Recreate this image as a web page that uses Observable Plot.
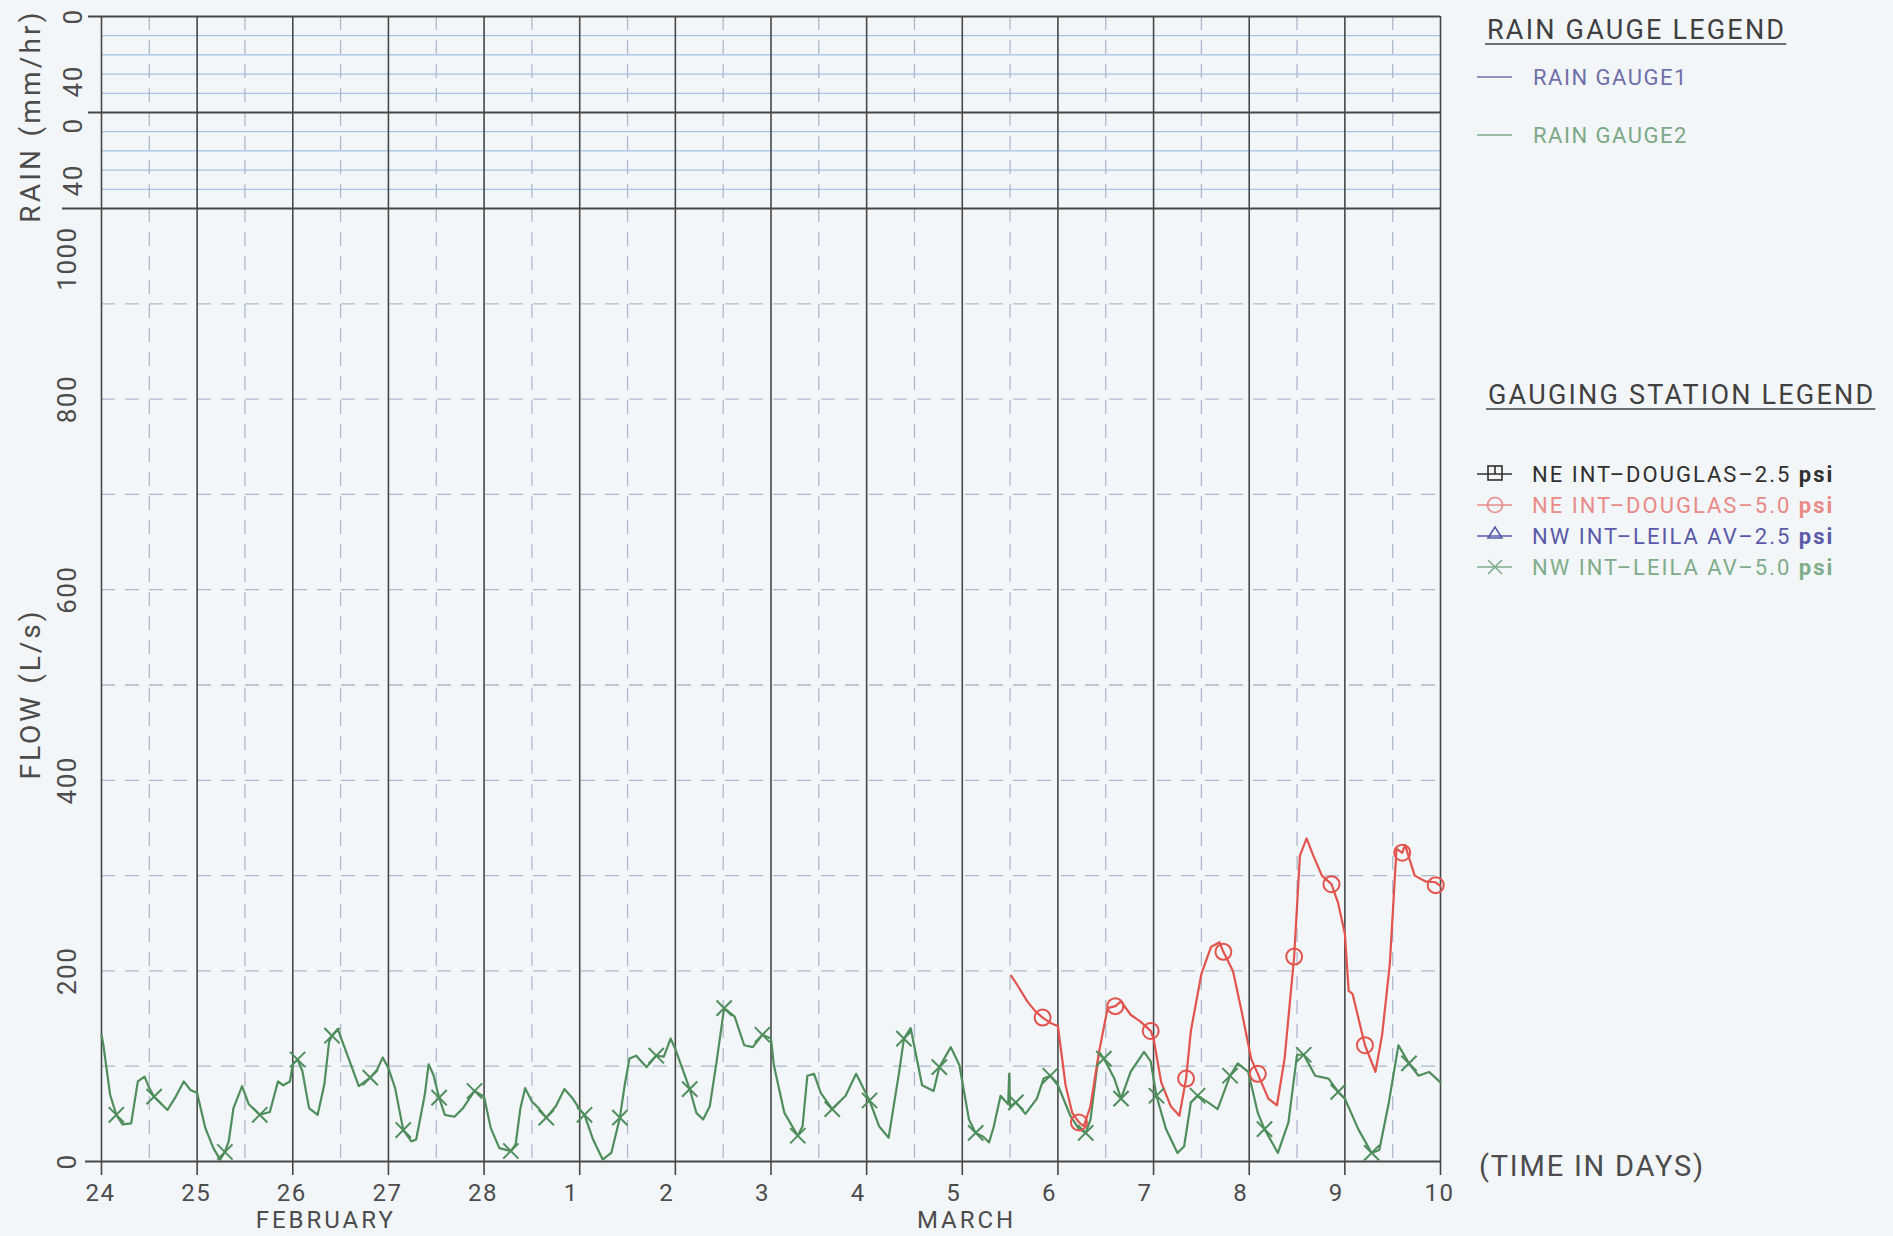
<!DOCTYPE html>
<html><head><meta charset="utf-8">
<script src="https://cdn.jsdelivr.net/npm/d3@7"></script>
<script src="https://cdn.jsdelivr.net/npm/@observablehq/plot@0.6"></script>
<style>
html,body{margin:0;padding:0;background:#f3f6f8;}
#wrap{position:relative;width:1893px;height:1236px;overflow:hidden;font-family:Roboto,"DejaVu Sans",sans-serif;}
#wrap > svg{position:absolute;left:0;top:0;}
</style></head><body><div id="wrap"></div>
<script>
// ---- axis / tick data ----
const days = [0,1,2,3,4,5,6,7,8,9,10,11,12,13,14];
const dayLabels = ["24","25","26","27","28","1","2","3","4","5","6","7","8","9","10"];
const halfDays = [0.5,1.5,2.5,3.5,4.5,5.5,6.5,7.5,8.5,9.5,10.5,11.5,12.5,13.5];
const months = ["FEBRUARY","MARCH"];
const monthPos = [2.35, 9.05];
const flowTicks = [0,200,400,600,800];
const flowTop = [1000];
const flowGrid = [100,200,300,400,500,600,700,800,900];
const rainGrid = [10,20,30,40];
const rainTicks = [0,40];

// ---- series (t = days since 24 Feb 00:00, v = flow L/s) ----
const greenT = [0.00,0.02,0.09,0.155,0.22,0.31,0.38,0.45,0.50,0.55,0.69,0.77,0.86,0.93,1.00,
1.086,1.17,1.24,1.29,1.33,1.38,1.47,1.54,1.655,1.76,1.845,1.90,1.97,2.00,2.05,2.10,2.17,2.26,2.33,2.38,2.41,2.47,2.57,2.69,2.81,2.88,2.94,3.00,
3.07,3.155,3.24,3.29,3.38,3.42,3.47,3.53,3.59,3.69,3.78,3.90,4.00,4.07,4.16,4.28,4.33,4.38,4.43,4.50,4.57,4.65,4.75,4.84,4.92,5.00,
5.05,5.14,5.24,5.33,5.42,5.47,5.52,5.59,5.70,5.80,5.88,5.95,6.00,6.10,6.15,6.22,6.29,6.36,6.43,6.51,6.62,6.72,6.81,6.91,7.00,
7.03,7.14,7.28,7.33,7.38,7.45,7.52,7.64,7.78,7.89,8.03,8.13,8.23,8.34,8.39,8.46,8.58,8.70,8.76,8.88,8.97,9.07,9.14,9.22,9.28,9.33,9.40,9.48,9.49,9.50,
9.56,9.66,9.78,9.85,9.92,10.00,10.13,10.22,10.29,10.34,10.43,10.48,10.59,10.66,10.76,10.90,10.97,11.03,11.13,11.25,11.32,11.39,11.46,11.57,11.67,11.80,11.88,11.99,
12.09,12.16,12.30,12.41,12.50,12.57,12.69,12.83,12.93,13.00,13.14,13.28,13.36,13.46,13.56,13.67,13.77,13.88,14.00];
const greenV = [133,122,70,49,39,40,84,89,77,68,54,67,84,75,72,
35,14,2,10,21,56,79,60,49,52,84,80,84,102,107,95,56,49,81,126,132,139,112,79,88,96,109,98,
77,33,21,23,70,102,91,67,49,47,56,74,68,35,14,11,18,56,77,63,56,46,58,76,67,55,
49,23,2,9,46,80,108,111,99,111,110,129,118,90,76,51,44,58,104,161,152,122,120,133,129,
101,51,27,37,90,92,72,55,69,92,64,37,25,94,129,140,80,74,99,120,101,44,30,26,20,37,69,60,92,58,
62,50,66,87,90,80,48,34,30,44,115,108,87,66,94,115,105,69,34,9,16,62,69,62,55,90,103,94,
51,34,9,41,112,112,90,87,73,66,34,9,12,62,122,103,90,94,83];
const redT = [9.51,9.57,9.68,9.76,9.84,9.93,10.00,10.08,10.15,10.22,10.27,10.34,10.43,10.52,10.60,10.66,10.76,10.86,10.97,11.00,
11.08,11.18,11.27,11.34,11.39,11.50,11.60,11.69,11.73,11.83,11.92,12.02,12.09,12.20,12.29,12.37,12.47,12.53,12.60,12.67,12.76,12.86,12.93,13.00,
13.04,13.08,13.14,13.21,13.32,13.39,13.47,13.54,13.60,13.63,13.73,13.84,13.95,14.00];
const redV = [195,186,168,158,151,145,142,80,51,41,37,58,115,161,163,168,154,147,137,129,
83,58,48,87,137,197,225,230,220,200,158,108,92,66,59,108,215,321,339,321,300,291,271,239,
179,176,151,122,94,133,207,328,324,332,300,294,293,289];
const greenMarkT = [0.155,0.55,1.29,1.655,2.05,2.41,2.81,3.155,3.53,3.90,4.28,4.65,5.05,5.42,5.80,6.15,6.51,6.91,7.28,7.64,8.03,8.39,8.76,9.14,9.56,9.92,10.29,10.48,10.66,11.03,11.46,11.80,12.16,12.57,12.93,13.28,13.67];
const greenMarkV = [49,68,10,49,107,132,88,33,67,74,11,46,49,46,111,76,161,133,27,55,64,129,99,30,62,90,30,108,66,69,69,90,34,112,73,9,103];
const redMarkT = [9.84,10.22,10.60,10.97,11.34,11.73,12.09,12.47,12.86,13.21,13.60,13.95];
const redMarkV = [151,41,163,137,87,220,92,215,291,122,324,290];
const rain1 = []; // RAIN GAUGE1: no recorded rain
const rain2 = []; // RAIN GAUGE2: no recorded rain

const green = greenT.map((t,i)=>({t, v:greenV[i]}));
const red = redT.map((t,i)=>({t, v:redV[i]}));
const greenMarks = greenMarkT.map((t,i)=>({t, v:greenMarkV[i]}));
const redMarks = redMarkT.map((t,i)=>({t, v:redMarkV[i]}));

const W = 1893, H = 1236;
const GREEN = "#4f8d5c", RED = "#e2534d";
const DARK = "#474747", DASH = "#adb9cc", TXT = "#4c4c4c";
const FONT = "Roboto, 'DejaVu Sans', sans-serif";
const common = {width:W, height:H, marginLeft:101, marginRight:453,
  style:{background:"transparent", overflow:"visible", fontFamily:FONT, letterSpacing:"1.5px"},
  x:{domain:[0,14], axis:null}};

const flow = Plot.plot({...common, marginTop:208, marginBottom:75,
  y:{domain:[0,1000], axis:null},
  marks:[
    Plot.ruleY(flowGrid, {stroke:DASH, strokeDasharray:"14,10", strokeWidth:1.3}),
    Plot.ruleX(halfDays, {stroke:DASH, strokeDasharray:"14,10", strokeWidth:1.3}),
    Plot.ruleX(days, {stroke:DARK, strokeWidth:1.6, insetBottom:-14}),
    Plot.ruleY([0], {stroke:DARK, strokeWidth:1.8, insetLeft:-16}),
    Plot.ruleY(flowTop, {stroke:DARK, strokeWidth:1.8, insetLeft:-39}),
    Plot.line(green, {x:"t", y:"v", stroke:GREEN, strokeWidth:2.2}),
    Plot.line(red, {x:"t", y:"v", stroke:RED, strokeWidth:2.2}),
    Plot.dot(greenMarks, {x:"t", y:"v", symbol:"times", r:7, stroke:GREEN, strokeWidth:2}),
    Plot.dot(redMarks, {x:"t", y:"v", r:8, stroke:RED, fill:"none", strokeWidth:2}),
    Plot.text(days, {x:d=>d, text:(d,i)=>dayLabels[i], frameAnchor:"bottom", lineAnchor:"middle", dy:32, dx:-16, textAnchor:"start", fontSize:24, fill:TXT}),
    Plot.text(flowTicks, {y:d=>d, text:d=>String(d), frameAnchor:"left", textAnchor:"middle", dx:-34, rotate:-90, fontSize:26, fill:TXT}),
    Plot.text(flowTop, {y:d=>d, text:d=>String(d), frameAnchor:"left", textAnchor:"middle", dx:-34, dy:50, rotate:-90, fontSize:26, fill:TXT})
  ]});

function rainPanel(top, bottom, series, color, dy0, dy40) {
  return Plot.plot({...common, marginTop:top, marginBottom:H-bottom,
    y:{domain:[0,50], reverse:true, axis:null},
    marks:[
      Plot.ruleY(rainGrid, {stroke:"#a3c2e6", strokeWidth:1.3}),
      Plot.ruleX(halfDays, {stroke:DASH, strokeDasharray:"14,10", strokeWidth:1.3}),
      Plot.ruleX(days, {stroke:DARK, strokeWidth:1.6}),
      Plot.ruleY([0], {stroke:DARK, strokeWidth:1.8, insetLeft:-13}),
      Plot.line(series, {x:"t", y:"v", stroke:color, strokeWidth:2}),
      Plot.text([rainTicks[0]], {y:d=>d, text:d=>String(d), frameAnchor:"left", textAnchor:"middle", dx:-28, dy:dy0, rotate:-90, fontSize:26, fill:TXT}),
      Plot.text([rainTicks[1]], {y:d=>d, text:d=>String(d), frameAnchor:"left", textAnchor:"middle", dx:-28, dy:dy40, rotate:-90, fontSize:26, fill:TXT})
    ]});
}
const r1 = rainPanel(16, 112, rain1, "#6f6fa8", 0, -12);
const r2 = rainPanel(112, 208, rain2, "#7da887", 13, -9);

const wrap = document.getElementById("wrap");
wrap.appendChild(r1); wrap.appendChild(r2); wrap.appendChild(flow);

// ---- titles & legends ----
const xs = flow.scale("x");
const ov = d3.select(wrap).append("svg").attr("width", W).attr("height", H)
  .style("font-family", FONT).style("white-space", "pre");
function txt(x, y, s, size, fill, ls, rotate) {
  const t = ov.append("text").attr("x", x).attr("y", y).attr("dominant-baseline","central")
    .attr("font-size", size).attr("fill", fill).attr("letter-spacing", ls).text(s);
  if (rotate) t.attr("text-anchor","middle").attr("transform", `rotate(-90 ${x} ${y})`);
  return t;
}
months.forEach((m, i) => txt(xs.apply(monthPos[i]), 1220, m, 24, TXT, 3).attr("text-anchor", "middle"));
txt(30, 116, "RAIN  (mm/hr)", 28, TXT, 3.2, true);
txt(30, 694, "FLOW  (L/s)", 28, TXT, 3, true);
txt(1479, 1166, "(TIME  IN  DAYS)", 29, TXT, 1.8);

function title(x, y, s) {
  const t = txt(x, y, s, 27, "#404040", 2.2);
  const w = t.node().getComputedTextLength();
  ov.append("line").attr("x1", x-2).attr("x2", x+w).attr("y1", y+14).attr("y2", y+14)
    .attr("stroke", "#404040").attr("stroke-width", 1.6);
}
title(1487, 30, "RAIN  GAUGE  LEGEND");
const rainLeg = [["RAIN  GAUGE1", "#6f6fa8", 77], ["RAIN  GAUGE2", "#7da887", 135]];
rainLeg.forEach(([s, c, y]) => {
  ov.append("line").attr("x1",1477).attr("x2",1512).attr("y1",y).attr("y2",y).attr("stroke",c).attr("stroke-width",1.5);
  txt(1533, y, s, 22, c, 1.5);
});

title(1488, 395, "GAUGING  STATION  LEGEND");
const stations = [
  ["NE  INT–DOUGLAS–2.5  ", "#2f2f2f", 474, "square"],
  ["NE  INT–DOUGLAS–5.0  ", "#e88a86", 505, "circle"],
  ["NW  INT–LEILA  AV–2.5  ", "#5a5aa8", 536, "triangle"],
  ["NW  INT–LEILA  AV–5.0  ", "#7fac8a", 567, "times"]
];
stations.forEach(([s, c, y, sym]) => {
  const g = ov.append("g").attr("stroke", c).attr("stroke-width", 1.6).attr("fill", "none");
  g.append("line").attr("x1",1477).attr("x2",1512).attr("y1",y).attr("y2",y);
  const cx = 1495;
  if (sym === "square") {
    g.append("rect").attr("x",cx-7).attr("y",y-8).attr("width",14).attr("height",14);
    g.append("line").attr("x1",cx).attr("x2",cx).attr("y1",y-8).attr("y2",y);
  } else if (sym === "circle") {
    g.append("circle").attr("cx",cx).attr("cy",y).attr("r",7.5);
  } else if (sym === "triangle") {
    g.append("path").attr("d",`M${cx-7},${y+2}L${cx},${y-9}L${cx+7},${y+2}Z`);
  } else {
    g.append("path").attr("d",`M${cx-7},${y-7}L${cx+7},${y+7}M${cx-7},${y+7}L${cx+7},${y-7}`);
  }
  const t = txt(1532, y, s, 22, c, 2);
  t.append("tspan").attr("font-weight", "bold").text("psi");
});
</script></body></html>
